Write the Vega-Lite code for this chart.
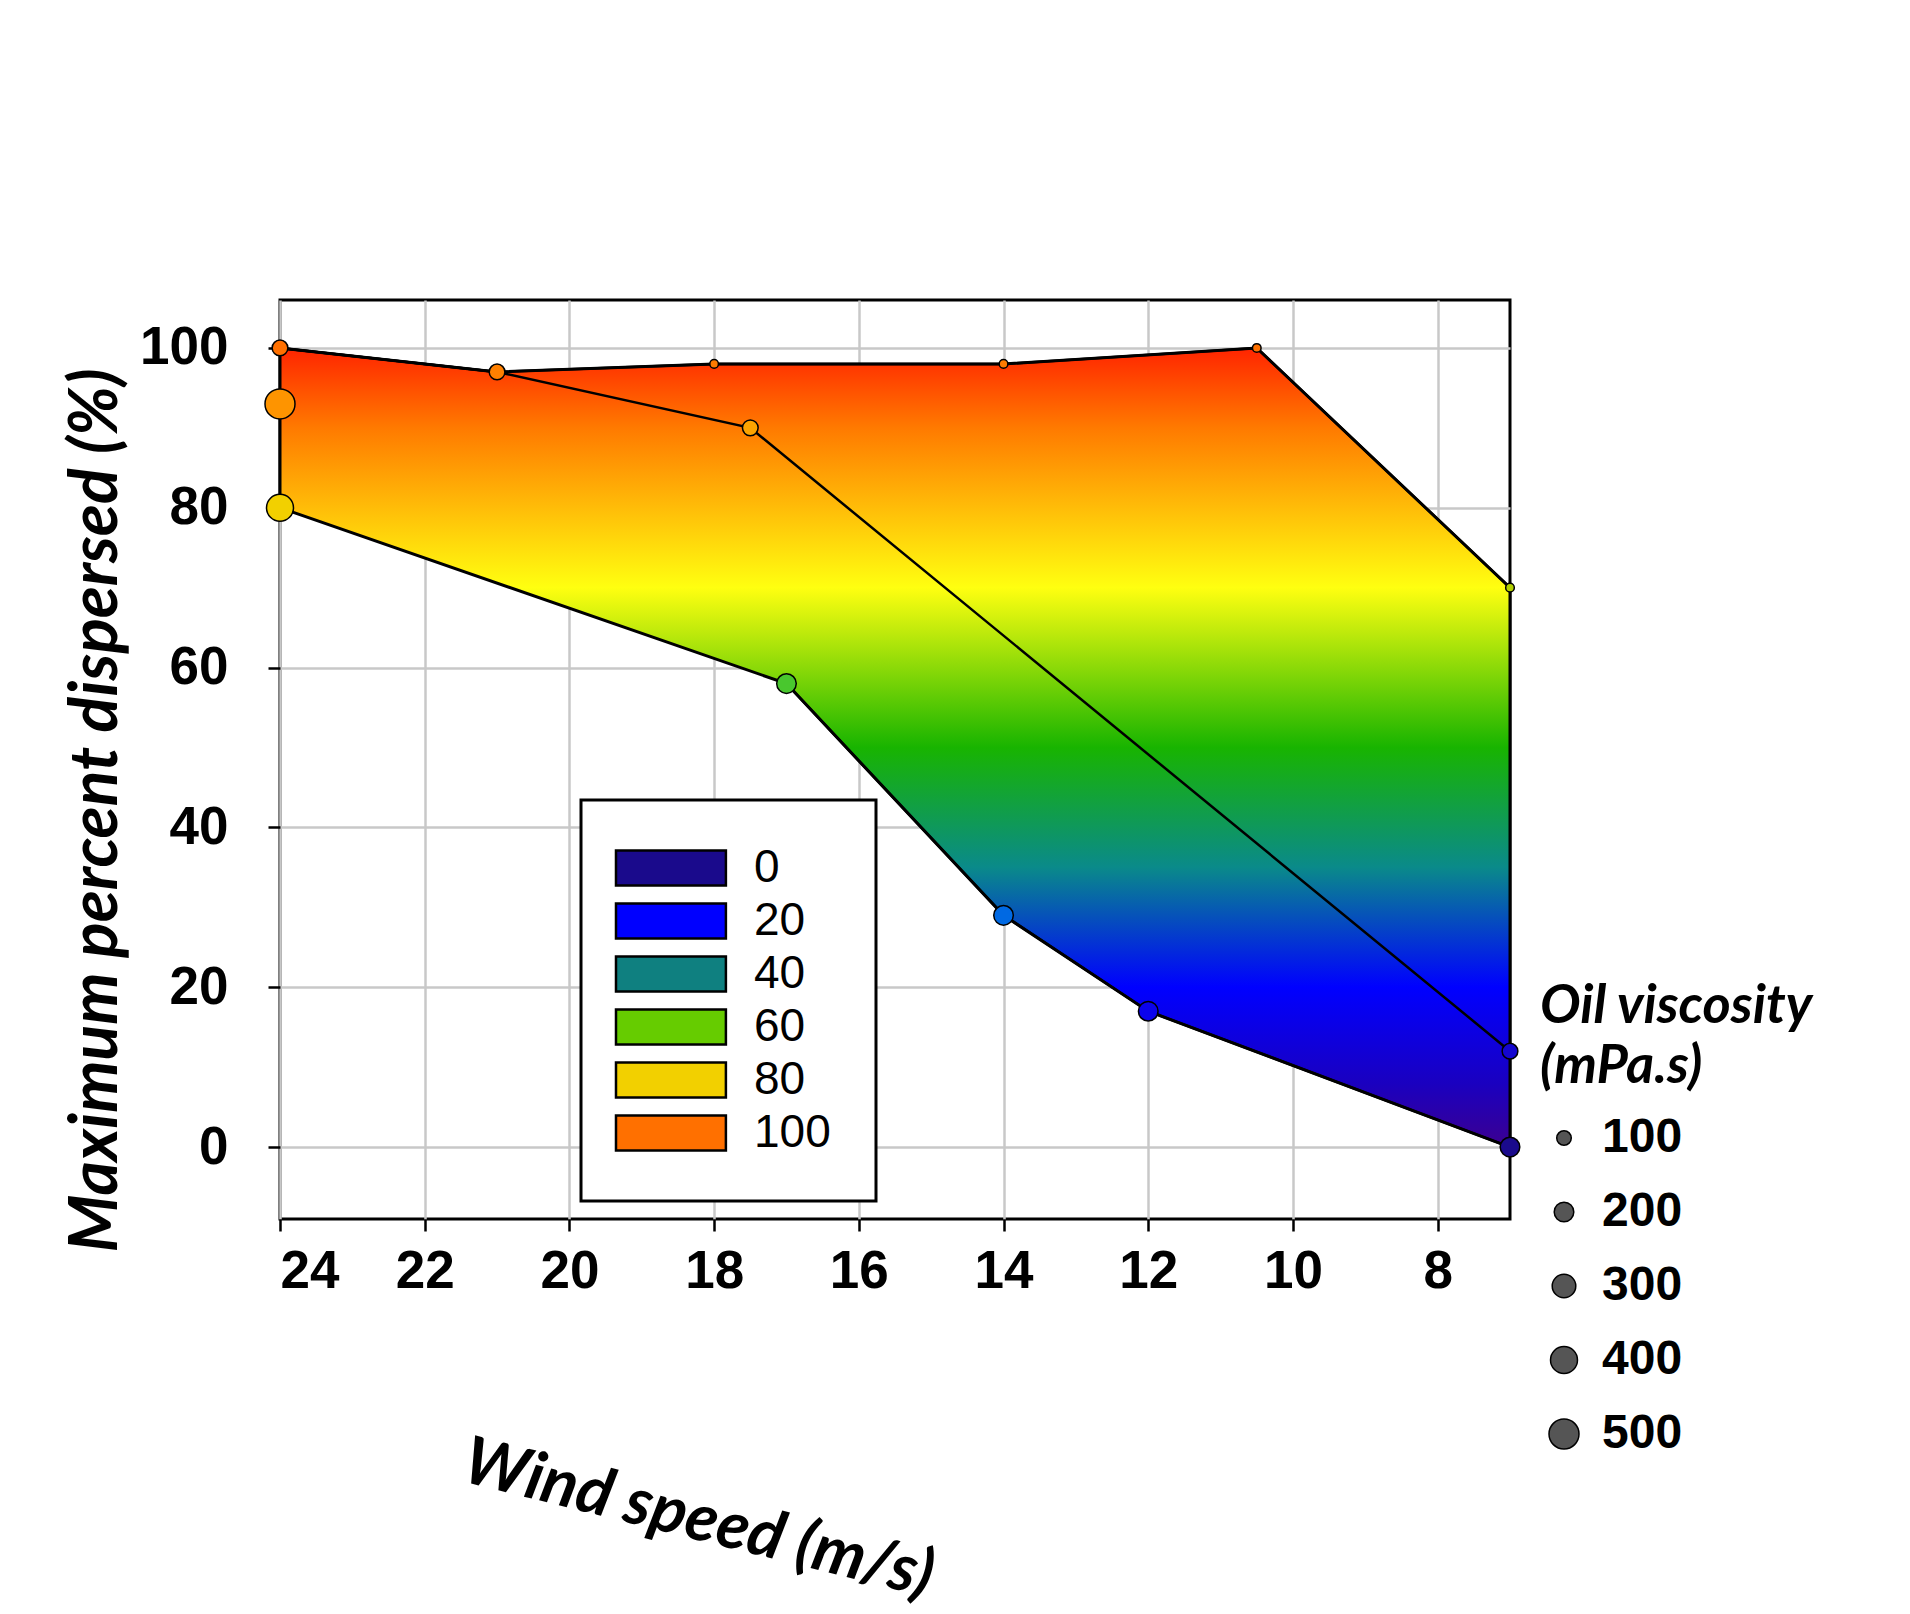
{
  "$schema": "https://vega.github.io/schema/vega-lite/v6.json",
  "width": 1230,
  "height": 919,
  "autosize": {"type": "none"},
  "padding": {"left": 280, "top": 300, "right": 400, "bottom": 395},
  "background": "white",
  "data": {
    "values": [
      {"wind": 24, "viscosity": 20, "pct": 100, "outline": 1},
      {"wind": 21, "viscosity": 20, "pct": 97, "outline": 2},
      {"wind": 18, "viscosity": 20, "pct": 98, "outline": 3},
      {"wind": 14, "viscosity": 20, "pct": 98, "outline": 4},
      {"wind": 10.5, "viscosity": 20, "pct": 100, "outline": 5},
      {"wind": 7, "viscosity": 20, "pct": 70, "outline": 6},
      {"wind": 24, "viscosity": 120, "pct": 100},
      {"wind": 21, "viscosity": 120, "pct": 97},
      {"wind": 17.5, "viscosity": 120, "pct": 90},
      {"wind": 7, "viscosity": 120, "pct": 12, "outline": 7},
      {"wind": 17, "viscosity": 200, "pct": 58, "outline": 11},
      {"wind": 14, "viscosity": 200, "pct": 29, "outline": 10},
      {"wind": 12, "viscosity": 200, "pct": 17, "outline": 9},
      {"wind": 7, "viscosity": 200, "pct": 0, "outline": 8},
      {"wind": 24, "viscosity": 400, "pct": 80, "outline": 12},
      {"wind": 24, "viscosity": 500, "pct": 93, "outline": 13}
    ]
  },
  "encoding": {
    "x": {
      "field": "wind", "type": "quantitative",
      "scale": {"domain": [7, 24], "reverse": true, "nice": false, "zero": false},
      "axis": {"values": [24, 22, 20, 18, 16, 14, 12, 10, 8], "title": "Wind speed (m/s)",
               "labelPadding": 14, "titleAngle": 14, "titleX": 418, "titleY": 300,
               "titleAlign": "center", "titleBaseline": "middle"}
    },
    "y": {
      "field": "pct", "type": "quantitative",
      "scale": {"domain": [-9, 106], "nice": false, "zero": false},
      "axis": {"values": [0, 20, 40, 60, 80, 100], "title": "Maximum percent dispersed (%)",
               "labelPadding": 40, "titleX": -184, "titleY": 510,
               "titleAlign": "center", "titleBaseline": "middle"}
    }
  },
  "layer": [
    {
      "transform": [{"filter": "datum.outline != null"}],
      "mark": {
        "type": "line", "interpolate": "linear-closed", "stroke": "black", "strokeWidth": 3,
        "fill": {
          "gradient": "linear", "x1": 0, "y1": 0, "x2": 0, "y2": 1,
          "stops": [
            {"offset": 0, "color": "#ff2400"},
            {"offset": 0.1, "color": "#ff7a00"},
            {"offset": 0.3, "color": "#ffff10"},
            {"offset": 0.5, "color": "#18b400"},
            {"offset": 0.65, "color": "#0a8a8a"},
            {"offset": 0.8, "color": "#0000ff"},
            {"offset": 0.92, "color": "#1a00c0"},
            {"offset": 1, "color": "#3c0090"}
          ]
        }
      },
      "encoding": {"order": {"field": "outline", "type": "quantitative"}}
    },
    {
      "mark": {"type": "line", "stroke": "black", "strokeWidth": 2.5},
      "encoding": {"detail": {"field": "viscosity", "type": "nominal"}}
    },
    {
      "mark": {"type": "point", "shape": "circle", "filled": true, "stroke": "black", "strokeWidth": 1.5, "opacity": 1},
      "encoding": {
        "color": {
          "field": "pct", "type": "quantitative",
          "scale": {"domain": [0, 20, 40, 60, 80, 100],
                    "range": ["#1a0a8c", "#0000ff", "#0f8080", "#66cc00", "#f2d000", "#ff7000"]},
          "legend": {
            "orient": "none", "legendX": 301, "legendY": 500, "title": null, "type": "symbol",
            "values": [0, 20, 40, 60, 80, 100],
            "symbolType": "M-1.886,-1H4.394V1H-1.886Z", "symbolSize": 1225,
            "symbolStrokeColor": "black", "symbolStrokeWidth": 2.5, "symbolOpacity": 1,
            "labelFont": "Liberation Sans", "labelFontSize": 46, "labelFontWeight": "normal",
            "labelOffset": 82, "padding": 45, "rowPadding": 7,
            "strokeColor": "black", "fillColor": "white"
          }
        },
        "size": {
          "field": "viscosity", "type": "quantitative",
          "scale": {"domain": [0, 500], "range": [40, 900]},
          "legend": {
            "orient": "none", "legendX": 1260, "legendY": 680,
            "title": ["Oil viscosity", "(mPa.s)"], "values": [100, 200, 300, 400, 500],
            "titleFont": "Lato", "titleFontStyle": "italic", "titleFontWeight": "bold", "titleFontSize": 54,
            "titleLimit": 600, "titleLineHeight": 60,
            "labelFont": "Liberation Sans", "labelFontWeight": "bold", "labelFontSize": 48,
            "symbolFillColor": "#555555", "symbolStrokeColor": "black", "symbolType": "circle",
            "rowPadding": 26, "titlePadding": 20, "labelOffset": 14
          }
        }
      }
    }
  ],
  "config": {
    "view": {"stroke": "black", "strokeWidth": 3, "fill": "white"},
    "axis": {
      "labelFont": "Liberation Sans", "labelFontWeight": "bold", "labelFontSize": 53, "labelColor": "black",
      "titleFont": "Lato", "titleFontStyle": "italic", "titleFontWeight": "bold", "titleFontSize": 66, "titleColor": "black",
      "tickColor": "black", "tickSize": 12, "tickWidth": 2.5,
      "gridColor": "#c8c8c8", "gridWidth": 2.5, "domain": false
    },
    "legend": {"strokeWidth": 3, "titleColor": "black", "labelColor": "black"}
  }
}
